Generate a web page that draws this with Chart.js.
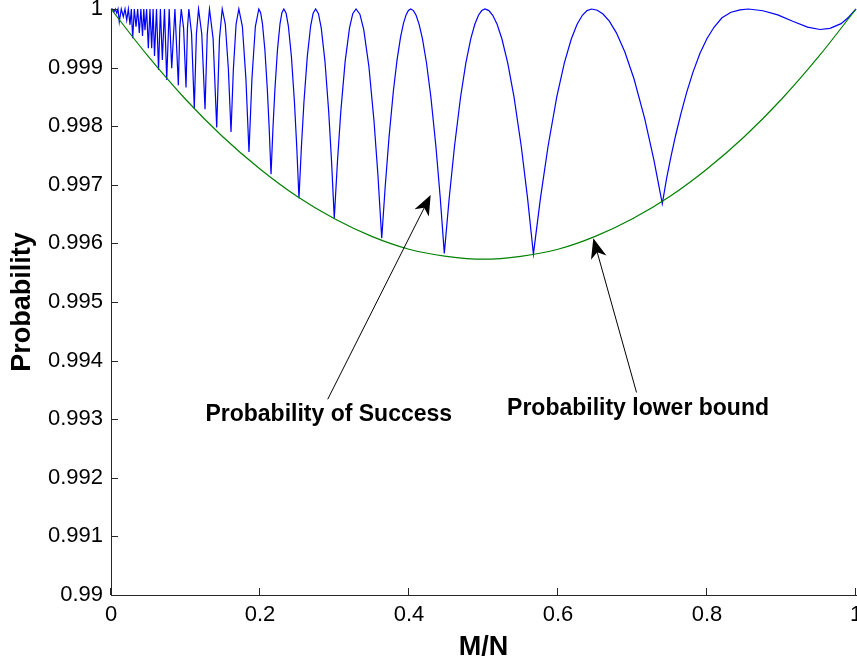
<!DOCTYPE html>
<html lang="en">
<head>
  <meta charset="UTF-8">
  <title>Probability of Success</title>
  <script src="https://cdn.jsdelivr.net/npm/chart.js"></script>
  <style>
    body {
      margin: 0;
      background-color: #fff;
    }

    #grafico {
      display: block;
    }
  </style>
</head>
<body>

<canvas id="grafico" width="857" height="662"></canvas>

<script>
  // axis ticks
  var xTicks = [0, 0.2, 0.4, 0.6, 0.8, 1];
  var xTickLabels = ['0', '0.2', '0.4', '0.6', '0.8', '1'];
  var yTicks = [0.99, 0.991, 0.992, 0.993, 0.994, 0.995, 0.996, 0.997, 0.998, 0.999, 1];
  var yTickLabels = ['0.99', '0.991', '0.992', '0.993', '0.994', '0.995', '0.996', '0.997', '0.998', '0.999', '1'];

  // blue curve: probability of success
  var successX = [
    0, 0.0020, 0.0040, 0.0058, 0.0077, 0.0094, 0.0111, 0.0138, 0.0165, 0.0188,
    0.0211, 0.0233, 0.0255, 0.0273, 0.0291, 0.0313, 0.0336, 0.0358, 0.0380, 0.0401,
    0.0423, 0.0440, 0.0456, 0.0478, 0.0501, 0.0523, 0.0546, 0.0565, 0.0584, 0.0611,
    0.0638, 0.0663, 0.0689, 0.0718, 0.0748, 0.0781, 0.0815, 0.0858, 0.0904,
    0.09235, 0.0943, 0.0975, 0.1007, 0.1026, 0.1045, 0.10815, 0.1118, 0.11465, 0.1175, 0.12185, 0.1262, 0.1292, 0.1322, 0.13705, 0.1419, 0.1456, 0.1493,
    0.15343, 0.15756, 0.1611, 0.16425, 0.16792, 0.1716, 0.17636, 0.18112, 0.1852, 0.18916, 0.19378, 0.1984,
    0.20086, 0.20332, 0.2066, 0.20988, 0.21234, 0.2148, 0.21738, 0.21996, 0.2234, 0.22684, 0.22942, 0.2320,
    0.23505, 0.23809, 0.24215, 0.24621, 0.24926, 0.2523, 0.25566, 0.25902, 0.2635, 0.26798, 0.27134, 0.2747,
    0.27845, 0.2822, 0.2872, 0.2922, 0.29595, 0.2997, 0.30408, 0.30846, 0.3143, 0.32014, 0.32452, 0.3289,
    0.33408, 0.33925, 0.34615, 0.35305, 0.35823, 0.3634,
    0.36807, 0.37312, 0.37896, 0.38402, 0.38868, 0.39257, 0.39608, 0.39919, 0.4023,
    0.40591, 0.40952, 0.41358, 0.41809, 0.4235, 0.42936, 0.43613, 0.44199, 0.4474,
    0.45395, 0.46105, 0.46924, 0.47634, 0.48289, 0.48835, 0.49326, 0.49763, 0.5020,
    0.5072, 0.5124, 0.51825, 0.52475, 0.53255, 0.541, 0.55075, 0.5592, 0.5670,
    0.57638, 0.58655, 0.59828, 0.60845, 0.61783, 0.62565, 0.63269, 0.63894, 0.6452,
    0.65278, 0.66037, 0.6689, 0.67838, 0.68976, 0.70208, 0.7163, 0.72862, 0.7400,
    0.7459, 0.7517, 0.7577, 0.7651, 0.7727, 0.7812, 0.7906, 0.8000, 0.8094, 0.8201, 0.8322, 0.8443, 0.8555,
    0.8750, 0.8950, 0.9150, 0.9350, 0.9517, 0.9650, 0.9800, 0.9900, 1
  ];
  var successP = [
    1, 1, 0.99995, 1, 0.99993, 1, 0.99978, 1, 0.99987, 1,
    0.99981, 1, 0.99973, 1, 0.99950, 1, 0.99970, 1, 0.99959, 1,
    0.99954, 1, 0.99964, 1, 0.99933, 1, 0.99933, 1, 0.99920, 1,
    0.99896, 1, 0.99913, 1, 0.99879, 1, 0.99899, 1, 0.99870,
    0.999675, 1, 0.999665, 0.99866, 0.999665, 1, 0.999575, 0.99830, 0.999575, 1, 0.999573, 0.99829, 0.999573, 1, 0.999495, 0.99798, 0.999495, 1,
    0.999743, 0.998971, 0.99790, 0.998971, 0.999743, 1, 0.999701, 0.998804, 0.99756, 0.998804, 0.999701, 1,
    0.999937, 0.999746, 0.999295, 0.998618, 0.997963, 0.99718, 0.997963, 0.998618, 0.999295, 0.999746, 0.999937, 1,
    0.999927, 0.999709, 0.999192, 0.998417, 0.997666, 0.99677, 0.997666, 0.998417, 0.999192, 0.999709, 0.999927, 1,
    0.99992, 0.999679, 0.999107, 0.998251, 0.997421, 0.99643, 0.997421, 0.998251, 0.999107, 0.999679, 0.99992, 1,
    0.999912, 0.999648, 0.999022, 0.998084, 0.997175, 0.99609,
    0.996972, 0.997801, 0.998592, 0.999136, 0.999521, 0.999756, 0.9999, 0.999975, 1,
    0.999973, 0.999893, 0.999739, 0.999489, 0.999079, 0.998499, 0.997654, 0.996771, 0.99583,
    0.996771, 0.997654, 0.998499, 0.999079, 0.999489, 0.999739, 0.999893, 0.999973, 1,
    0.999973, 0.999893, 0.999739, 0.999488, 0.999077, 0.998495, 0.997649, 0.996763, 0.99582,
    0.996763, 0.997649, 0.998495, 0.999077, 0.999488, 0.999739, 0.999893, 0.999973, 1,
    0.999979, 0.999915, 0.999793, 0.999593, 0.999267, 0.998805, 0.998132, 0.997429, 0.99668,
    0.997119, 0.997486, 0.997833, 0.998218, 0.998578, 0.998923, 0.999246, 0.999497, 0.999688, 0.99985, 0.999944, 0.999986, 1,
    0.99997, 0.99990, 0.99979, 0.99969, 0.99965, 0.99967, 0.99975, 0.99986, 1
  ];

  // green curve: probability lower bound
  var boundX = [0, 0.05, 0.1, 0.15, 0.2, 0.25, 0.3, 0.35, 0.4, 0.45, 0.5,
                0.55, 0.6, 0.65, 0.7, 0.75, 0.8, 0.85, 0.9, 0.95, 1];
  var boundP = [1, 0.99919, 0.99846, 0.99782, 0.99727, 0.99680, 0.99642, 0.99612, 0.99590, 0.99578, 0.99573,
                0.99578, 0.99590, 0.99612, 0.99642, 0.99680, 0.99727, 0.99782, 0.99846, 0.99919, 1];

  // text arrows (data coordinates)
  var notas = [
    { texto: 'Probability of Success', tipX: 0.4291, tipY: 0.996826, colaX: 0.2909, colaY: 0.99334, textoX: 0.2923, textoY: 0.992961 },
    { texto: 'Probability lower bound', tipX: 0.6474, tipY: 0.996087, colaX: 0.7054, colaY: 0.993456, textoX: 0.7074, textoY: 0.993072 }
  ];

  var fuente = "'Liberation Sans', Arial, Helvetica, sans-serif";
  var colorEje = '#262626';

  function puntos(xs, ys) {
    return xs.map(function (x, i) { return { x: x, y: ys[i] }; });
  }

  function dibujarFlecha(ctx, x0, y0, x1, y1) {
    var ang = Math.atan2(y1 - y0, x1 - x0);
    var largo = 20, ancho = 8;
    ctx.beginPath();
    ctx.moveTo(x0, y0);
    ctx.lineTo(x1 - Math.cos(ang) * 12, y1 - Math.sin(ang) * 12);
    ctx.stroke();
    ctx.save();
    ctx.translate(x1, y1);
    ctx.rotate(ang);
    ctx.beginPath();
    ctx.moveTo(0, 0);
    ctx.lineTo(-largo, -ancho);
    ctx.lineTo(-largo * 0.72, 0);
    ctx.lineTo(-largo, ancho);
    ctx.closePath();
    ctx.fill();
    ctx.restore();
  }

  var extras = {
    id: 'extras',
    afterDraw: function (chart) {
      var ctx = chart.ctx;
      var sx = chart.scales.x, sy = chart.scales.y, area = chart.chartArea;
      ctx.save();

      // ticks pointing inwards
      ctx.strokeStyle = colorEje;
      ctx.lineWidth = 1;
      xTicks.forEach(function (v) {
        var p = Math.round(sx.getPixelForValue(v)) - 0.5;
        ctx.beginPath();
        ctx.moveTo(p, area.bottom);
        ctx.lineTo(p, area.bottom - 7);
        ctx.stroke();
      });
      yTicks.forEach(function (v) {
        var p = Math.round(sy.getPixelForValue(v)) + 0.5;
        ctx.beginPath();
        ctx.moveTo(area.left, p);
        ctx.lineTo(area.left + 7, p);
        ctx.stroke();
      });

      // axis titles
      ctx.fillStyle = '#000';
      ctx.font = 'bold 27px ' + fuente;
      ctx.textAlign = 'center';
      ctx.textBaseline = 'alphabetic';
      ctx.fillText('M/N', (area.left + area.right) / 2, 655);
      ctx.save();
      ctx.translate(30, (area.top + area.bottom) / 2);
      ctx.rotate(-Math.PI / 2);
      ctx.fillText('Probability', 0, 0);
      ctx.restore();

      // arrows and labels
      ctx.strokeStyle = '#000';
      ctx.fillStyle = '#000';
      ctx.lineWidth = 1;
      ctx.font = 'bold 23px ' + fuente;
      notas.forEach(function (n) {
        dibujarFlecha(ctx,
          sx.getPixelForValue(n.colaX), sy.getPixelForValue(n.colaY),
          sx.getPixelForValue(n.tipX), sy.getPixelForValue(n.tipY));
        ctx.fillText(n.texto, sx.getPixelForValue(n.textoX), sy.getPixelForValue(n.textoY));
      });

      ctx.restore();
    }
  };

  var ctx = document.getElementById('grafico').getContext('2d');

  var grafico = new Chart(ctx, {
    type: 'line',
    data: {
      datasets: [
        {
          label: 'Probability of Success',
          data: puntos(successX, successP),
          borderColor: '#0000ff',
          borderWidth: 1.2,
          pointRadius: 0,
          tension: 0,
          fill: false,
          order: 1,
          clip: 4
        },
        {
          label: 'Probability lower bound',
          data: puntos(boundX, boundP),
          borderColor: '#008000',
          borderWidth: 1.2,
          pointRadius: 0,
          cubicInterpolationMode: 'monotone',
          fill: false,
          order: 0,
          clip: 4
        }
      ]
    },
    options: {
      responsive: false,
      animation: false,
      devicePixelRatio: 1,
      layout: { padding: { top: 9, right: 1, left: 0, bottom: 0 } },
      plugins: {
        legend: { display: false },
        tooltip: { enabled: false }
      },
      scales: {
        x: {
          type: 'linear',
          min: 0,
          max: 1,
          grid: { display: false, drawTicks: false },
          border: { display: true, color: colorEje, width: 1 },
          ticks: {
            color: '#000',
            font: { family: fuente, size: 22 },
            padding: 7,
            maxRotation: 0,
            autoSkip: false,
            callback: function (v, i) { return xTickLabels[i]; }
          },
          afterBuildTicks: function (s) {
            s.ticks = xTicks.map(function (v) { return { value: v }; });
          },
          afterFit: function (s) {
            s.height = 67;
            s.paddingLeft = 0;
            s.paddingRight = 0;
          }
        },
        y: {
          type: 'linear',
          min: 0.99,
          max: 1,
          grid: { display: false, drawTicks: false },
          border: { display: true, color: colorEje, width: 1 },
          ticks: {
            color: '#000',
            font: { family: fuente, size: 22 },
            padding: 8,
            autoSkip: false,
            callback: function (v, i) { return yTickLabels[i]; }
          },
          afterBuildTicks: function (s) {
            s.ticks = yTicks.map(function (v) { return { value: v }; });
          },
          afterFit: function (s) {
            s.width = 111;
            s.paddingTop = 0;
            s.paddingBottom = 0;
          }
        }
      }
    },
    plugins: [extras]
  });
</script>

</body>
</html>
